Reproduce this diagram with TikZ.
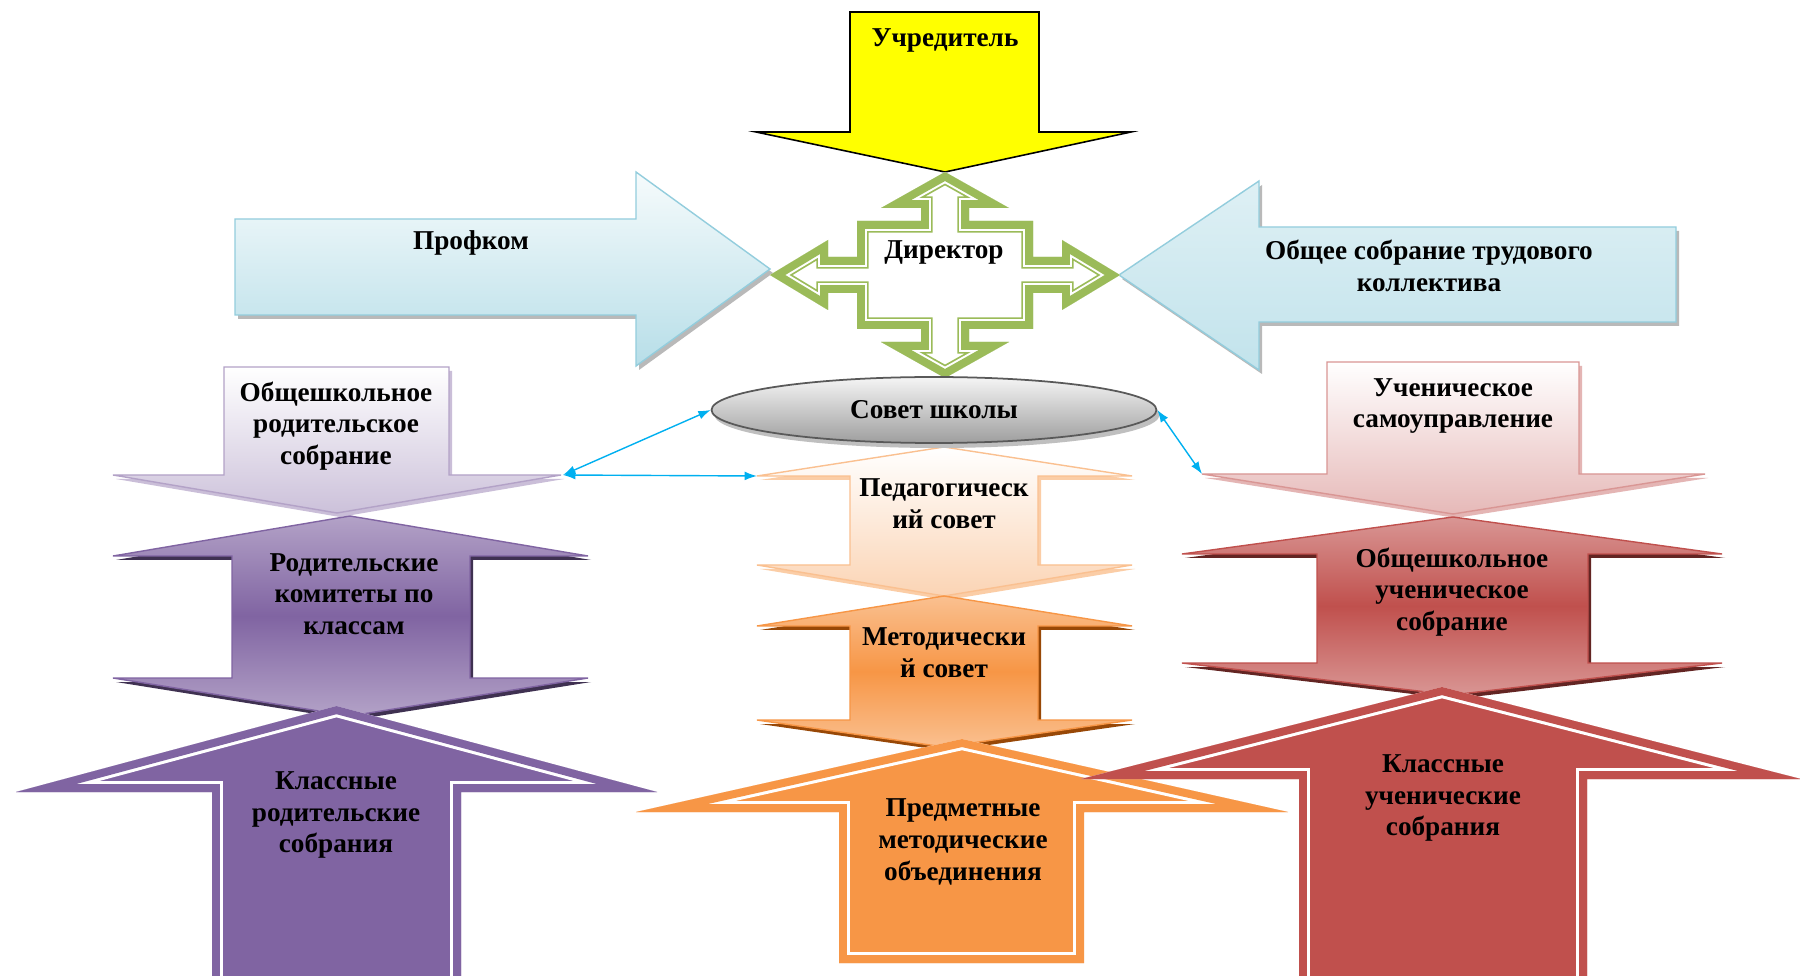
\documentclass[tikz,border=0pt]{standalone}
\usepackage{fontspec}
\setmainfont{Liberation Serif}
\usetikzlibrary{positioning, arrows.meta, shapes.geometric}

\definecolor{uchryellow}{HTML}{FFFF00}
\definecolor{dirgreen}{HTML}{9BBB59}
\definecolor{profrim}{HTML}{93CDDD}
\definecolor{proflight}{HTML}{F6FBFC}
\definecolor{profdark}{HTML}{B7DEE8}
\definecolor{linkblue}{HTML}{00B0F0}
\definecolor{violet2}{HTML}{CCC1DA}
\definecolor{violet3}{HTML}{B3A2C7}
\definecolor{violet4}{HTML}{8064A2}
\definecolor{violet5}{HTML}{3F3151}
\definecolor{peach1}{HTML}{FBD4B4}
\definecolor{peach2}{HTML}{FAC090}
\definecolor{peach3}{HTML}{F79646}
\definecolor{peach4}{HTML}{984807}
\definecolor{rose1}{HTML}{E6B9B8}
\definecolor{rose2}{HTML}{D99694}
\definecolor{rose3}{HTML}{C0504D}
\definecolor{rose4}{HTML}{632523}

% outlines that are used more than once
\newcommand{\dirshape}{(945,172) -- (1009,208) -- (969,208) -- (969,221) -- (1033,221) -- (1033,257) -- (1062,257) -- (1062,240) -- (1120,275) -- (1062,310) -- (1062,293) -- (1033,293) -- (1033,329) -- (969,329) -- (969,342) -- (1009,342) -- (945,378) -- (881,342) -- (921,342) -- (921,329) -- (857,329) -- (857,293) -- (828,293) -- (828,310) -- (770,275) -- (828,240) -- (828,257) -- (857,257) -- (857,221) -- (921,221) -- (921,208) -- (881,208) -- cycle}
\newcommand{\krodshape}{(336.5,706) -- (657,792) -- (461,792) -- (461,1010) -- (212,1010) -- (212,792) -- (16,792) -- cycle}
\newcommand{\predshape}{(962,739) -- (1288,812) -- (1084,812) -- (1084,963) -- (839,963) -- (839,812) -- (636,812) -- cycle}
\newcommand{\kuchshape}{(1442,687) -- (1801,779) -- (1587,779) -- (1587,1010) -- (1299,1010) -- (1299,779) -- (1081,779) -- cycle}

\tikzset{
  lbl/.style={font=\bfseries\fontsize{15.5}{18}\selectfont, align=center, inner sep=0pt},
  rim/.style={line width=0.8pt, line join=miter},
  shadowed/.style={preaction={fill=#1, transform canvas={shift={(3,4)}}}},
  link/.style={linkblue, line width=0.8pt, <->, >={Latex[length=7pt,width=5pt]}}
}

\begin{document}
\begin{tikzpicture}[x=0.02cm, y=-0.02cm]
    \useasboundingbox (0,0) rectangle (1800,976);
    \fill[white] (0,0) rectangle (1800,976);
    \clip (0,0) rectangle (1800,976);

    % top row
    \draw[rim, fill=uchryellow, line width=0.9pt] (850,12) -- (1039,12) -- (1039,132) -- (1131,132) -- (945,172) -- (756,132) -- (850,132) -- cycle;
    \draw[rim, draw=profrim, top color=proflight, bottom color=profdark, shadowed=gray!55] (235,219) -- (636,219) -- (636,172) -- (770,269) -- (636,366) -- (636,315) -- (235,315) -- cycle;
    \draw[rim, draw=profrim, top color=profdark!45, bottom color=profdark!85, shadowed=gray!55] (1676,227) -- (1259,227) -- (1259,181) -- (1119,275) -- (1259,370) -- (1259,322) -- (1676,322) -- cycle;
    \begin{scope}
      \clip \dirshape;
      \fill[white] \dirshape;
      \draw[dirgreen, line width=13.3pt] \dirshape;
      \draw[white, line width=11.3pt] \dirshape;
      \draw[dirgreen, line width=9pt] \dirshape;
    \end{scope}

    % second row
    \draw[rim, draw=violet3, top color=white, bottom color=violet2, shadowed=violet3!70] (224,367) -- (449,367) -- (449,475) -- (561,475) -- (337,513) -- (113,475) -- (224,475) -- cycle;
    \draw[rim, draw=rose2, top color=white, bottom color=rose1, shadowed=rose2!70] (1327,362) -- (1579,362) -- (1579,474) -- (1705,474) -- (1453,514) -- (1202,474) -- (1327,474) -- cycle;
    \draw[rim, draw=peach2, top color=white, bottom color=peach1, shadowed=peach2!80] (944,447) -- (1132,476) -- (1038,476) -- (1038,565) -- (1132,565) -- (944,596) -- (757,565) -- (850,565) -- (850,476) -- (757,476) -- cycle;
    \node[ellipse, draw=black!65, line width=1pt, minimum width=8.9cm, minimum height=1.32cm, top color=black!4, bottom color=black!38, preaction={fill=black!25, transform canvas={shift={(3,5)}}}, lbl] (sovet) at (934,410) {Совет школы};

    % third row
    \draw[rim, draw=violet4, top color=violet3, bottom color=violet3, middle color=violet4, shadowed=violet5] (350,516) -- (588,556) -- (470,556) -- (470,678) -- (588,678) -- (350,716) -- (113,678) -- (232,678) -- (232,556) -- (113,556) -- cycle;
    \draw[rim, draw=peach3, top color=peach2, bottom color=peach2, middle color=peach3, shadowed=peach4] (944,596) -- (1132,626) -- (1038,626) -- (1038,720) -- (1132,720) -- (944,747) -- (757,720) -- (850,720) -- (850,626) -- (757,626) -- cycle;
    \draw[rim, draw=rose3, top color=rose2, bottom color=rose2, middle color=rose3, shadowed=rose4] (1453,517) -- (1722,554) -- (1588,554) -- (1588,663) -- (1722,663) -- (1452,695) -- (1182,663) -- (1317,663) -- (1317,554) -- (1182,554) -- cycle;

    % bottom row
    \begin{scope}
      \clip \krodshape;
      \fill[violet4] \krodshape;
      \draw[white, line width=12.5pt] \krodshape;
      \draw[violet4, line width=9pt] \krodshape;
    \end{scope}
    \begin{scope}
      \clip \predshape;
      \fill[peach3] \predshape;
      \draw[white, line width=12.5pt] \predshape;
      \draw[peach3, line width=9pt] \predshape;
    \end{scope}
    \begin{scope}
      \clip \kuchshape;
      \fill[rose3] \kuchshape;
      \draw[white, line width=12.5pt] \kuchshape;
      \draw[rose3, line width=9pt] \kuchshape;
    \end{scope}

    % links
    \coordinate (orodR) at (563,475);
    \coordinate (pedL) at (757,476);
    \coordinate (usamL) at (1202,474);
    \draw[link] (orodR) -- (sovet.west);
    \draw[link] (orodR) -- (pedL);
    \draw[link] (sovet.east) -- (usamL);

    % labels
    \node[lbl] (uchr) at (945,40) {Учредитель};
    \node[lbl] (dir) at (944,252) {Директор};
    \node[lbl] (prof) at (471,243) {Профком};
    \node[lbl] (trud) at (1429,266) {Общее собрание трудового\\коллектива};
    \node[lbl] (ped) at (944,504) {Педагогическ\\ий совет};
    \node[lbl] (met) at (944,653) {Методически\\й совет};
    \node[lbl] (pred) at (963,842) {Предметные\\методические\\объединения};
    \node[lbl] (orod) at (336,426) {Общешкольное\\родительское\\собрание};
    \node[lbl] (rkom) at (354,594) {Родительские\\комитеты по\\классам};
    \node[lbl] (krod) at (336,815) {Классные\\родительские\\собрания};
    \node[lbl] (usam) at (1453,406) {Ученическое\\самоуправление};
    \node[lbl] (ouch) at (1452,592) {Общешкольное\\ученическое\\собрание};
    \node[lbl] (kuch) at (1443,798) {Классные\\ученические\\собрания};
\end{tikzpicture}
\end{document}
